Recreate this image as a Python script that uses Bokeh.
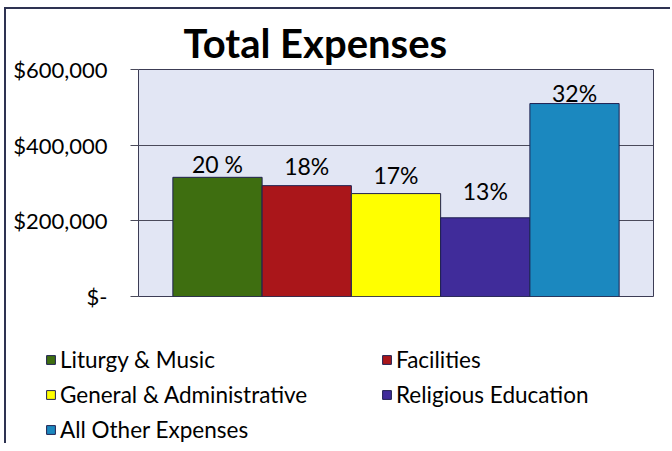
from bokeh.plotting import figure
from bokeh.layouts import column, row
from bokeh.models import Range1d, FixedTicker, Legend, LegendItem, ColumnDataSource
from bokeh.core.properties import value
from bokeh.embed import file_html
from bokeh.resources import INLINE

# ---- data ----
categories = ["Liturgy & Music", "Facilities", "General & Administrative",
              "Religious Education", "All Other Expenses"]
expenses = [315000, 293000, 272000, 208000, 510000]
pct_labels = ["20 %", "18%", "17%", "13%", "32%"]
y_ticks = [0, 200000, 400000, 600000]
tick_labels = ["$-", "$200,000", "$400,000", "$600,000"]

# ---- styles ----
colors = ["#3e6e10", "#aa161a", "#ffff00", "#402c9a", "#1b88bf"]
label_lift = [13, 20, 19, 27, 11]
FONT = "Lato"

src = ColumnDataSource(dict(
    x=list(range(len(categories))),
    top=expenses,
    color=colors,
    label=pct_labels,
    dy=[-v for v in label_lift],
))

p = figure(width=664, height=301, output_backend="svg", toolbar_location=None,
           x_range=Range1d(-0.885, 4.885), y_range=Range1d(0, 600000),
           x_axis_location=None,
           min_border_left=132, min_border_right=17,
           min_border_top=60, min_border_bottom=14,
           title="Total Expenses")

p.background_fill_color = "#e2e6f4"
p.border_fill_color = "white"
p.outline_line_color = "#3c3c55"
p.outline_line_width = 1

p.title.align = "left"
p.title.offset = 45
p.title.text_font = FONT
p.title.text_font_size = "40px"
p.title.text_font_style = "bold"
p.title.text_color = "black"
p.title.standoff = 5

yax = p.yaxis[0]
yax.ticker = FixedTicker(ticks=y_ticks)
yax.major_label_overrides = {t: l for t, l in zip(y_ticks, tick_labels)}
yax.major_label_text_font = FONT
yax.major_label_text_font_size = "22px"
yax.major_label_text_color = "black"
yax.major_label_standoff = 23
yax.axis_line_color = None
yax.major_tick_out = 8
yax.major_tick_in = 0
yax.major_tick_line_color = "#4a4a5a"
yax.minor_tick_line_color = None

p.ygrid.ticker = FixedTicker(ticks=y_ticks)
p.ygrid.grid_line_color = "#4a4a5a"
p.ygrid.grid_line_width = 1
p.xgrid.visible = False

p.vbar(x="x", top="top", width=1.0, source=src,
       fill_color="color", line_color="#1f2050", line_width=1)

p.text(x="x", y="top", text="label", source=src, y_offset="dy",
       text_align="center", text_baseline="alphabetic",
       text_font=value(FONT), text_font_size="23px", text_color="black")

# ---- legend panel ----
lg = figure(width=664, height=133, output_backend="svg", toolbar_location=None,
            x_range=Range1d(-0.885, 4.885), y_range=Range1d(1e7, 2e7),
            x_axis_location=None, y_axis_location=None, min_border=0)
lg.outline_line_color = None
lg.background_fill_color = "white"
lg.border_fill_color = "white"
lg.xgrid.visible = False
lg.ygrid.visible = False
proxy = lg.vbar(x="x", top="top", width=1.0, source=src,
                fill_color="color", line_color="#1f2050", line_width=1)

def make_legend(idxs, loc):
    items = [LegendItem(label=categories[i], renderers=[proxy], index=i) for i in idxs]
    return Legend(items=items, location=loc, orientation="vertical",
                  border_line_color=None, background_fill_alpha=0,
                  padding=0, margin=0, spacing=8, label_height=22,
                  glyph_height=11, glyph_width=11, label_standoff=4,
                  label_text_font=FONT, label_text_font_size="22.5px",
                  label_text_color="black")

lg.add_layout(make_legend([0, 2, 4], (39, 0)))
lg.add_layout(make_legend([1, 3], (375, 35)))

layout = column(p, row(lg), spacing=0)
layout.styles = {"margin-left": "4px", "margin-top": "7px",
                 "border-left": "2px solid #2e3352",
                 "border-top": "2px solid #2e3352"}
open("out.html", "w").write(file_html(layout, INLINE))
